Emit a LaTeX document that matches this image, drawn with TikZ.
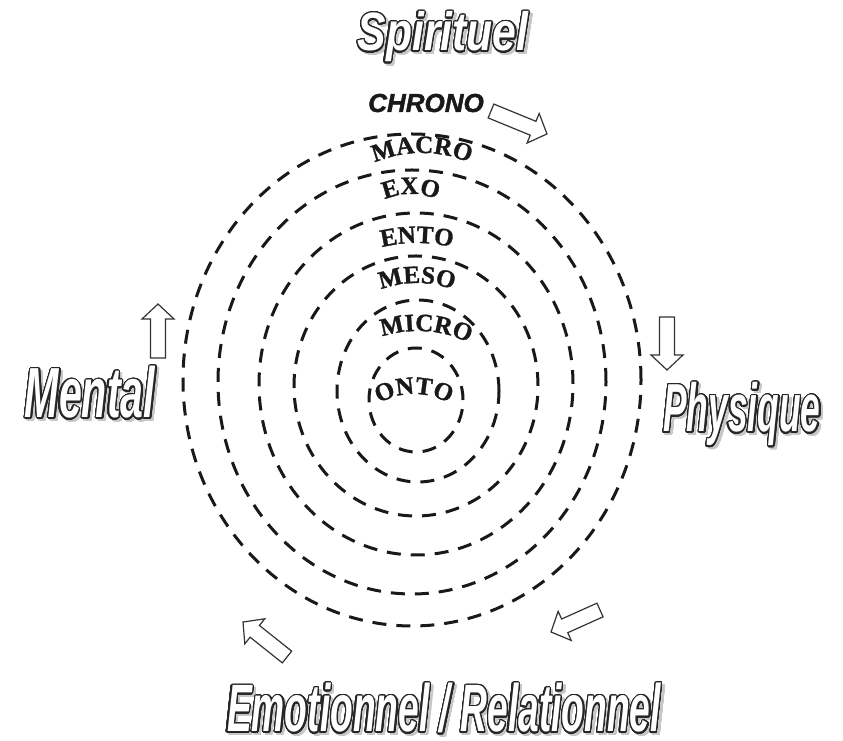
\documentclass[tikz,border=0pt]{standalone}
\usepackage{fontspec}
\usepackage{contour}
\usetikzlibrary{decorations.text}
\newfontfamily\fSpir[FakeStretch=0.79]{Liberation Sans}
\newfontfamily\fMent[FakeStretch=0.58]{Liberation Sans}
\newfontfamily\fPhys[FakeStretch=0.52]{Liberation Sans}
\newfontfamily\fEmo[FakeStretch=0.555]{Liberation Sans}
\newfontfamily\fChrono[FakeBold=1.5]{Liberation Sans}
\newfontfamily\fRing[FakeBold=1.2]{Liberation Serif}
\contourlength{1.3pt}
\contournumber{32}
\newcommand\ringfmt{\fRing\bfseries\fontsize{25}{25}\selectfont}
\newcommand\bigword[5]{%
  \node[shadowlabel] (#1s) at (#2+2.5,#3-2.5) {#4\contour{black!22}{#5}};
  \node[biglabel] (#1) at (#2,#3) {#4\contour{black!85}{#5}};}
\tikzset{
  ring/.style={draw=black!90, line width=3pt, dash pattern=on 14pt off 10pt},
  barrowst/.style={draw=black!80, fill=white, line width=1.2pt, line join=miter},
  pics/barrow/.style={code={\draw[barrowst] (0,-7.5) -- ({#1-15},-7.5) -- ({#1-15},-16) -- (#1,0) -- ({#1-15},16) -- ({#1-15},7.5) -- (0,7.5) -- cycle;}},
  biglabel/.style={anchor=base, inner sep=0pt, text=white},
  shadowlabel/.style={anchor=base, inner sep=0pt, text=black!22},
  ringlabel/.style={decorate, decoration={text along path, text align=center, text color=black!90, text={#1}}},
}
\begin{document}
\begin{tikzpicture}[x=1pt,y=1pt]
\fill[white] (0,0) rectangle (843,741);
\useasboundingbox (0,0) rectangle (843,741);

% concentric dashed rings
\coordinate (c1) at (412,361);
\coordinate (c2) at (412,359);
\coordinate (c3) at (416,357);
\coordinate (c4) at (416,355);
\coordinate (c5) at (418,350);
\coordinate (c6) at (416,341);
\draw[ring] (c1) ellipse [x radius=229pt, y radius=246pt];
\draw[ring] (c2) ellipse [x radius=194pt, y radius=212pt];
\draw[ring] (c3) ellipse [x radius=157pt, y radius=171pt];
\draw[ring] (c4) ellipse [x radius=122pt, y radius=130pt];
\draw[ring] (c5) ellipse [x radius=81pt, y radius=91pt];
\draw[ring] (c6) ellipse [x radius=47pt, y radius=52pt];

% ring labels
\coordinate (lMacro) at (422,468);
\coordinate (lExo) at (411,482);
\coordinate (lEnto) at (417,348);
\coordinate (lMeso) at (417,358);
\coordinate (lMicro) at (418,295);
\coordinate (lOnto) at (414,277);
\path[ringlabel={|\ringfmt|MACRO}] ([shift={(130:120pt)}]lMacro) arc[start angle=130, end angle=50, radius=120pt];
\path[ringlabel={|\ringfmt|EXO}] ([shift={(140:65pt)}]lExo) arc[start angle=140, end angle=40, radius=65pt];
\path[ringlabel={|\ringfmt|ENTO}] ([shift={(120:150pt)}]lEnto) arc[start angle=120, end angle=60, radius=150pt];
\path[ringlabel={|\ringfmt|MESO}] ([shift={(135:100pt)}]lMeso) arc[start angle=135, end angle=45, radius=100pt];
\path[ringlabel={|\ringfmt|MICRO}] ([shift={(128:115pt)}]lMicro) arc[start angle=128, end angle=44, radius=115pt];
\path[ringlabel={|\ringfmt|ONTO}] ([shift={(140:70pt)}]lOnto) arc[start angle=140, end angle=40, radius=70pt];

% CHRONO
\node[anchor=base, inner sep=0pt, text=black!90] (chrono) at (426,629) {\fChrono\bfseries\itshape\fontsize{26}{26}\selectfont CHRONO};

% block arrows
\pic[rotate=-22.3] (a1) at (491,630) {barrow=60.5};
\pic[rotate=-90] (a2) at (667,424) {barrow=53};
\pic[rotate=90] (a3) at (158,383) {barrow=54};
\pic[rotate=204.2] (a4) at (600,131) {barrow=53.7};
\pic[rotate=141.5] (a5) at (287,84) {barrow=56.2};

% big outlined words
\bigword{spir}{443}{690}{\fSpir\bfseries\itshape\fontsize{54}{54}\selectfont}{Spirituel}
\bigword{ment}{90}{323}{\fMent\bfseries\itshape\fontsize{71}{71}\selectfont}{Mental}
\bigword{phys}{742}{309}{\fPhys\bfseries\itshape\fontsize{68}{68}\selectfont}{Physique}
\bigword{emo}{444}{9}{\fEmo\bfseries\itshape\fontsize{67}{67}\selectfont}{Emotionnel / Relationnel}
\end{tikzpicture}
\end{document}
